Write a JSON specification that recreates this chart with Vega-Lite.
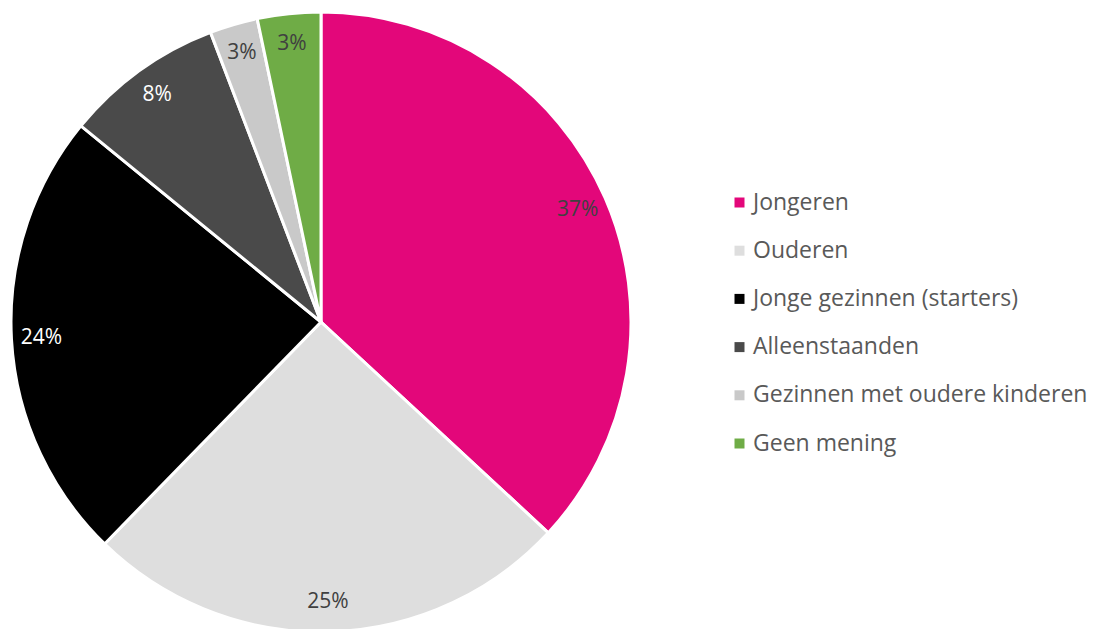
{
  "$schema": "https://vega.github.io/schema/vega-lite/v6.json",
  "width": 642,
  "height": 644,
  "padding": 0,
  "background": "white",
  "view": {"stroke": null},
  "data": {
    "values": [
      {"groep": "Jongeren", "aandeel": 36.9, "label": "37%", "volg": 1, "tekst": "dark"},
      {"groep": "Ouderen", "aandeel": 25.4, "label": "25%", "volg": 2, "tekst": "dark"},
      {"groep": "Jonge gezinnen (starters)", "aandeel": 23.6, "label": "24%", "volg": 3, "tekst": "light"},
      {"groep": "Alleenstaanden", "aandeel": 8.3, "label": "8%", "volg": 4, "tekst": "light"},
      {"groep": "Gezinnen met oudere kinderen", "aandeel": 2.5, "label": "3%", "volg": 5, "tekst": "dark"},
      {"groep": "Geen mening", "aandeel": 3.3, "label": "3%", "volg": 6, "tekst": "dark"}
    ]
  },
  "encoding": {
    "theta": {"field": "aandeel", "type": "quantitative", "stack": true},
    "order": {"field": "volg", "type": "quantitative"}
  },
  "layer": [
    {
      "mark": {"type": "arc", "outerRadius": 310, "stroke": "white", "strokeWidth": 3},
      "encoding": {
        "color": {
          "field": "groep",
          "type": "nominal",
          "sort": ["Jongeren", "Ouderen", "Jonge gezinnen (starters)", "Alleenstaanden", "Gezinnen met oudere kinderen", "Geen mening"],
          "scale": {
            "domain": ["Jongeren", "Ouderen", "Jonge gezinnen (starters)", "Alleenstaanden", "Gezinnen met oudere kinderen", "Geen mening"],
            "range": ["#E3077A", "#DEDEDE", "#000000", "#4A4A4A", "#C9C9C9", "#6FAC46"]
          },
          "legend": {
            "title": null,
            "orient": "none",
            "legendX": 728,
            "legendY": 191,
            "symbolType": "square",
            "symbolSize": 100,
            "symbolStrokeWidth": 0,
            "labelFont": "Open Sans",
            "labelFontSize": 23,
            "labelColor": "#595959",
            "labelOffset": 2,
            "rowPadding": 24.2,
            "labelLimit": 400
          }
        }
      }
    },
    {
      "mark": {"type": "text", "radius": 280, "font": "Open Sans", "fontSize": 21},
      "encoding": {
        "text": {"field": "label"},
        "color": {
          "field": "tekst",
          "type": "nominal",
          "scale": {"domain": ["dark", "light"], "range": ["#404040", "#FFFFFF"]},
          "legend": null
        }
      }
    }
  ],
  "resolve": {"scale": {"color": "independent"}}
}
